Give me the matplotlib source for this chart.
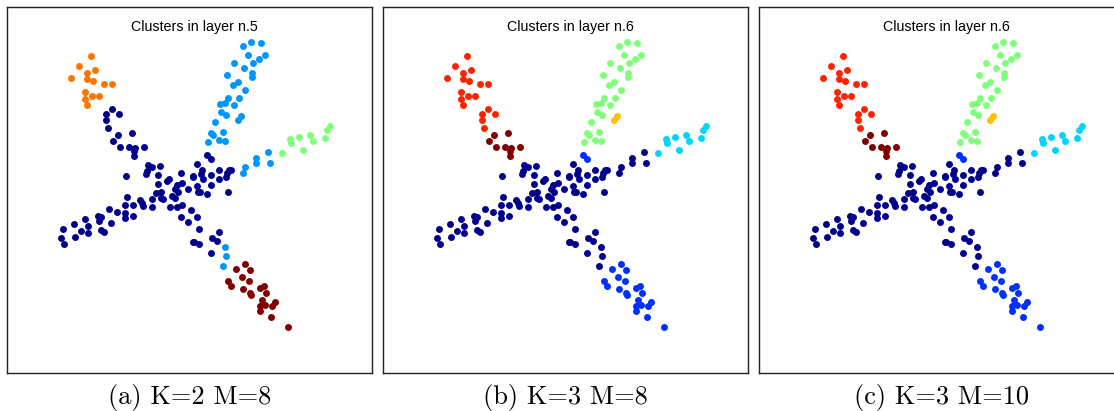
import matplotlib
matplotlib.use("Agg")
from matplotlib import pyplot as plt

# point groups, coordinates in screen units (y grows downward)
tl_head_x = [272, 236, 262, 285, 213, 262, 280, 311, 336, 256, 275, 297, 254, 262]
tl_head_y = [168, 199, 219, 211, 234, 238, 242, 252, 253, 276, 287, 289, 297, 316]

tl_mid_x = [336, 317, 356, 317, 324]
tl_mid_y = [326, 342, 342, 359, 385]

tl_low_x = [395, 354, 340, 359, 387, 405, 431, 401, 401]
tl_low_y = [398, 404, 423, 441, 442, 443, 442, 452, 468]

ur_arm_x = [728, 752, 783, 744, 795, 777, 701, 758, 731, 756, 756, 680, 713, 698, 736,
            683, 716, 660, 674, 703, 662, 678, 646, 634, 638, 668, 623, 657, 674]
ur_arm_y = [138, 126, 130, 165, 165, 178, 189, 190, 204, 220, 230, 225, 247, 254, 271,
            295, 295, 312, 308, 316, 336, 346, 367, 400, 404, 397, 426, 420, 422]

ur_pair_x = [723, 713]
ur_pair_y = [347, 361]

r_arm_x = [736, 730, 768, 769, 803, 809]
r_arm_y = [501, 520, 475, 490, 457, 489]

r_tip_x = [846, 870, 874, 897, 909, 929, 938, 974, 982, 989]
r_tip_y = [459, 418, 430, 412, 450, 405, 424, 413, 389, 377]

c_pair_x = [622, 632]
c_pair_y = [465, 477]

core_x = [189, 183, 193, 221, 225, 242, 256, 264, 264, 294, 302, 296, 303, 313, 326,
          332, 352, 375, 375, 376, 381, 400, 399, 420, 425, 428, 379, 444, 456, 479,
          441, 437, 474, 506, 500, 544, 474, 547, 530, 580, 578, 590, 606, 604, 633,
          657, 680, 687, 692, 679, 657, 609, 634, 590, 565, 594, 600, 622, 683, 524,
          533, 468, 483, 482, 489, 456, 515, 525, 457, 510, 530, 546, 572, 542, 563,
          591, 597, 578, 582, 598, 635, 657, 650, 634]
core_y = [687, 715, 732, 672, 710, 693, 657, 679, 699, 649, 651, 662, 691, 697, 628,
          670, 636, 614, 638, 654, 592, 614, 647, 599, 609, 618, 528, 495, 501, 497,
          512, 521, 525, 538, 544, 520, 552, 550, 555, 527, 531, 491, 511, 521, 524,
          511, 519, 511, 509, 531, 536, 537, 554, 557, 568, 575, 575, 583, 575, 568,
          577, 580, 575, 593, 597, 597, 589, 593, 622, 621, 622, 614, 631, 651, 665,
          651, 687, 725, 727, 733, 715, 697, 722, 760]

lr_arm_x = [676, 678, 670]
lr_arm_y = [742, 769, 799]

lr_tip_x = [707, 734, 751, 685, 693, 727, 748, 730, 749, 753, 781, 792, 797, 785, 780,
            795, 824, 817, 781, 813, 864]
lr_tip_y = [807, 791, 809, 842, 859, 832, 842, 866, 878, 884, 864, 858, 878, 901, 917,
            916, 906, 918, 934, 950, 981]

groups = {
    "tl_head": (tl_head_x, tl_head_y),
    "tl_mid": (tl_mid_x, tl_mid_y),
    "tl_low": (tl_low_x, tl_low_y),
    "ur_arm": (ur_arm_x, ur_arm_y),
    "ur_pair": (ur_pair_x, ur_pair_y),
    "r_arm": (r_arm_x, r_arm_y),
    "r_tip": (r_tip_x, r_tip_y),
    "c_pair": (c_pair_x, c_pair_y),
    "core": (core_x, core_y),
    "lr_arm": (lr_arm_x, lr_arm_y),
    "lr_tip": (lr_tip_x, lr_tip_y),
}

NAVY = "#00008c"
colors_a = {"tl_head": "#ff7300", "tl_mid": NAVY, "tl_low": NAVY,
            "ur_arm": "#0096ff", "ur_pair": "#0096ff", "r_arm": "#0096ff",
            "r_tip": "#80ff7a", "c_pair": NAVY, "core": NAVY,
            "lr_arm": "#0096ff", "lr_tip": "#800000"}
colors_bc = {"tl_head": "#ff2200", "tl_mid": "#ff2200", "tl_low": "#800000",
             "ur_arm": "#80ff7a", "ur_pair": "#ffc000", "r_arm": NAVY,
             "r_tip": "#00d4ff", "c_pair": "#0030ff", "core": NAVY,
             "lr_arm": NAVY, "lr_tip": "#0030ff"}

panels = [("Clusters in layer n.5", "(a) K=2 M=8", colors_a),
          ("Clusters in layer n.6", "(b) K=3 M=8", colors_bc),
          ("Clusters in layer n.6", "(c) K=3 M=10", colors_bc)]

W, H = 1114, 411
fig = plt.figure(figsize=(W / 100, H / 100), dpi=100)

for i, (title, caption, cmap) in enumerate(panels):
    left = 7.3 + 376 * i
    ax = fig.add_axes([left / W, (H - 372.7) / H, 364.7 / W, 365.4 / H])
    for name, (gx, gy) in groups.items():
        ax.scatter(gx, gy, s=25, c=cmap[name], linewidths=0, zorder=2)
    ax.set_xlim(22, 1116)
    ax.set_ylim(1118, 22)
    ax.set_xticks([])
    ax.set_yticks([])
    for sp in ax.spines.values():
        sp.set_linewidth(1.0)
        sp.set_color("#222222")
    ax.text(0.514, 0.945, title, transform=ax.transAxes, ha="center", va="center",
            fontsize=10.3, family="Liberation Sans")
    fig.text((left + 182.4) / W, (H - 397) / H, caption, ha="center", va="center",
             fontsize=19, family="cmr10")

fig.savefig("out.png", dpi=100)
